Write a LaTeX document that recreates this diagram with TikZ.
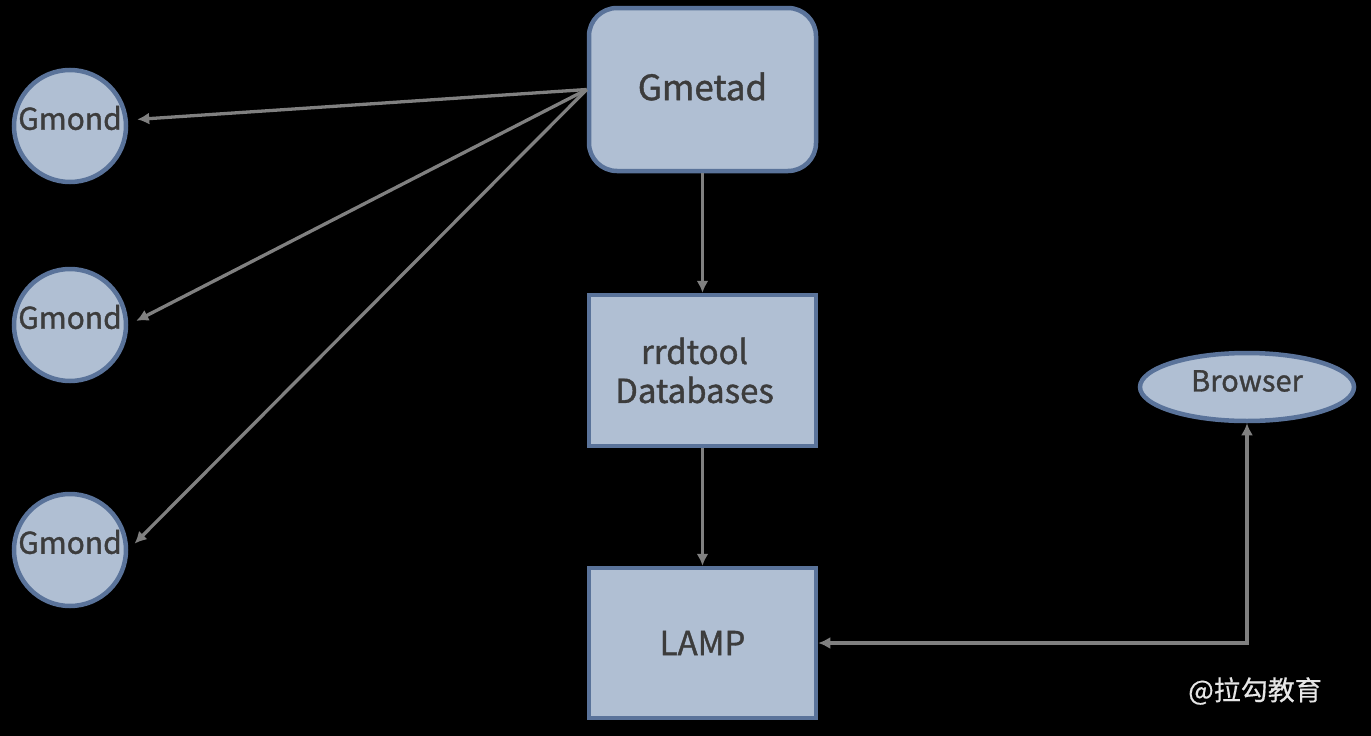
\documentclass[tikz,border=0pt]{standalone}
\usepackage{fontspec}
\setmainfont{Noto Sans CJK SC}[FakeBold=1.2]
\newfontfamily\wmfont{Noto Sans CJK SC}[FakeBold=0.5]
\usetikzlibrary{arrows.meta,shapes.geometric}
\definecolor{nodefill}{HTML}{B0BFD3}
\definecolor{nodeline}{HTML}{5A739A}
\definecolor{txt}{HTML}{3C3C3C}
\definecolor{arr}{HTML}{808080}
\definecolor{wm}{HTML}{E6E6E6}
\newcommand{\lift}[2]{\raisebox{#1}[\height][\depth]{#2}}
\begin{document}
\begin{tikzpicture}[x=1pt,y=-1pt,
  base/.style={draw=nodeline, fill=nodefill, line width=4.5pt, text=txt, inner sep=0pt},
  gmond/.style={base, circle, minimum size=112pt, font=\fontsize{30}{36}\selectfont},
  boxnode/.style={base, rectangle, minimum width=227pt, align=center},
  tip/.tip={Latex[length=12pt,width=12pt]},
  conn/.style={draw=arr, line width=3.3pt, -tip}]
\fill[black] (0,0) rectangle (1371,736);
\useasboundingbox (0,0) rectangle (1371,736);

\node[boxnode, rounded corners=28pt, minimum height=163pt, font=\fontsize{35}{40}\selectfont] (gmetad) at (702.5,89.5) {\lift{3pt}{Gmetad}};
\node[boxnode, minimum height=151pt, font=\fontsize{33}{39}\selectfont] (rrd) at (702.5,370.5) {rrdtool\rule{16pt}{0pt}\\Databases\rule{16pt}{0pt}};
\node[boxnode, minimum height=150pt, font=\fontsize{33}{38}\selectfont] (lamp) at (702.5,643) {LAMP};

\node[gmond] (g1) at (70,126) {\lift{8pt}{Gmond}};
\node[gmond] (g2) at (70,325) {\lift{8pt}{Gmond}};
\node[gmond] (g3) at (70,550) {\lift{8pt}{Gmond}};

\node[base, ellipse, minimum width=214pt, minimum height=68pt, font=\fontsize{29}{36}\selectfont] (browser) at (1247,387) {\lift{6pt}{Browser}};

\node[text=wm, font=\wmfont\fontsize{27}{30}\selectfont, inner sep=0pt] (wmark) at (1255,691) {@拉勾教育};

\draw[conn, shorten >=9pt] (gmetad.west) -- ([yshift=6pt]g1.east);
\draw[conn, shorten >=9pt] (gmetad.west) -- (g2.east);
\draw[conn, shorten >=9pt] (gmetad.west) -- (g3.east);
\draw[conn] (gmetad.south) -- (rrd.north);
\draw[conn] (rrd.south) -- (lamp.north);
\draw[conn, tip-tip] (lamp.east) -| (browser.south);
\end{tikzpicture}
\end{document}
